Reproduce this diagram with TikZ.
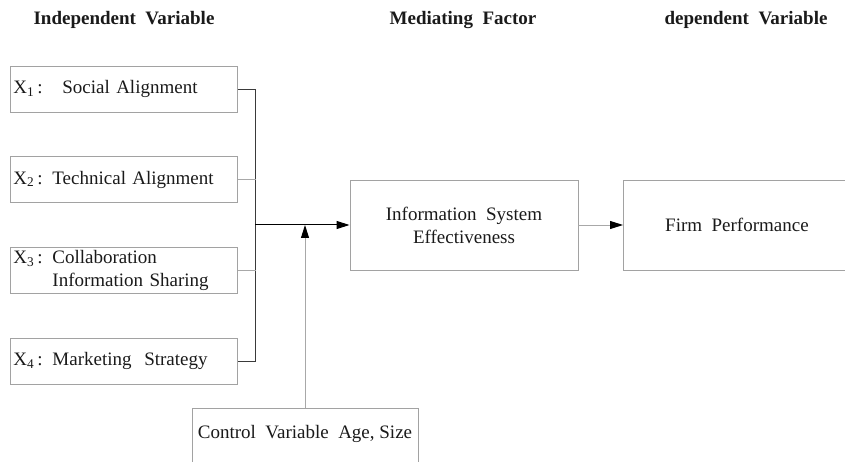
\documentclass[tikz,border=0pt]{standalone}
\usepackage{fontspec}
\setmainfont{Liberation Serif}
\usetikzlibrary{arrows.meta}
\definecolor{txt}{HTML}{1A1A1A}
\definecolor{boxgray}{HTML}{A2A2A2}
\definecolor{dk}{HTML}{3A3A3A}
\definecolor{lg}{HTML}{A8A8A8}
\begin{document}
\begin{tikzpicture}[x=1pt,y=-1pt,
  every node/.style={font=\fontsize{19}{23}\selectfont, text=txt},
  head/.style={font=\fontsize{19}{23}\selectfont\bfseries},
  box/.style={draw=boxgray, line width=0.9pt, inner ysep=0pt},
  leftbox/.style={box, anchor=west, inner xsep=3pt, text width=221pt, align=left, minimum height=46pt},
  darkline/.style={draw=dk, line width=0.9pt},
  grayline/.style={draw=lg, line width=0.9pt},
  tip/.style={-{Triangle[length=13pt,width=8pt,color=black]}}
]
\useasboundingbox (0,0) rectangle (845,462);

% headings
\node[head] (h1) at (124,20) {Independent\ \ Variable};
\node[head] (h2) at (463,20) {Mediating\ \ Factor};
\node[head] (h3) at (746,20) {dependent\ \ Variable};

% independent variables
\node[leftbox] (b1) at (10,89) {\makebox[49pt][l]{X\textsubscript{1}\,:}Social Alignment};
\node[leftbox] (b2) at (10,179.5) {\makebox[39pt][l]{X\textsubscript{2}\,:}Technical Alignment};
\node[leftbox] (b3) at (10,270.5) {\makebox[39pt][l]{X\textsubscript{3}\,:}Collaboration\\\hspace*{39pt}Information Sharing};
\node[leftbox] (b4) at (10,361) {\makebox[39pt][l]{X\textsubscript{4}\,:}Marketing\ \ Strategy};

% mediating and dependent
\node[box, minimum width=228pt, minimum height=90pt, align=center] (is) at (464,225) {Information\ \ System\\Effectiveness};
\node[box, anchor=west, minimum width=227pt, minimum height=90pt] (firm) at (623,225) {Firm\ \ Performance};

% control variable
\node[box, anchor=north, minimum width=226pt, inner sep=0pt, text height=30pt, text depth=33pt] (ctrl) at (305,408) {Control\ \ Variable\ \ Age, Size};

% connectors
\draw[darkline] (b1.east) -- ++(18,0) |- (b4.east);
\draw[grayline] (b2.east) -- ++(18,0);
\draw[grayline] (b3.east) -- ++(18,0);
\coordinate (m) at (255,225);
\coordinate (j) at (305,225);
\draw[draw=black, line width=1pt, tip] (m) -- (is.west);
\draw[grayline, tip] (ctrl.north) -- (j);
\draw[grayline, tip] (is.east) -- (firm.west);
\end{tikzpicture}
\end{document}
